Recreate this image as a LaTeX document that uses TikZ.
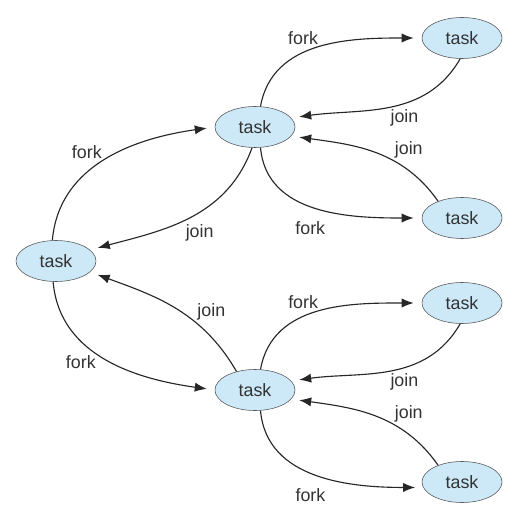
\documentclass[tikz,border=0pt]{standalone}
\usepackage{fontspec}
\setmainfont{Liberation Sans}
\usepackage{xcolor}
\usepackage{tikz}
\usetikzlibrary{arrows.meta,positioning,shapes.geometric}
\definecolor{taskblue}{HTML}{CDE9F8}
\definecolor{taskline}{HTML}{555555}
\definecolor{tasktext}{HTML}{333333}

\begin{document}
\begin{tikzpicture}[
    x=0.025cm, y=0.025cm,
    font=\fontsize{12.7}{15}\selectfont,
    task/.style={draw=taskline, ellipse, fill=taskblue, text=tasktext, minimum width=2cm, minimum height=1.025cm, inner sep=0pt},
    arrow/.style={-{Latex[length=3mm, width=2.3mm]}, thick, draw=black!85, shorten >=0.2cm},
    lbl/.style={text=tasktext, inner sep=1pt}
  ]
    \useasboundingbox (0,0) rectangle (532,521);
    \node[task] (root) at (56,260) {task};
    \node[task] (upper) at (255,394) {task};
    \node[task] (upperA) at (462,483) {task};
    \node[task] (upperB) at (462,303) {task};
    \node[task] (lower) at (255,131) {task};
    \node[task] (lowerA) at (462,218) {task};
    \node[task] (lowerB) at (462,39) {task};
    % root and the two middle tasks
    \draw[arrow] (root.100) to[out=85, in=188] node[lbl, pos=0.48, above left] {fork} (upper.west);
    \draw[arrow] (upper.262) to[out=250, in=15] node[lbl, pos=0.56, below right=0pt and 4pt] {join} (root.18);
    \draw[arrow] (lower.135) to[out=120, in=340] node[lbl, pos=0.35, above right] {join} (root.342);
    \draw[arrow] (root.262) to[out=275, in=172] node[lbl, pos=0.44, below left] {fork} (lower.west);
    % upper group
    \draw[arrow] (upper.75) to[out=80, in=180] node[lbl, pos=0.5, above left] {fork} (upperA.west);
    \draw[arrow] (upperA.265) to[out=240, in=8] node[lbl, pos=0.5, below right] {join} (upper.14);
    \draw[arrow] (upperB.145) to[out=125, in=352] node[lbl, pos=0.37, above right] {join} (upper.346);
    \draw[arrow] (upper.285) to[out=275, in=180] node[lbl, pos=0.55, below left=6pt and 0pt] {fork} (upperB.west);
    % lower group
    \draw[arrow] (lower.75) to[out=80, in=180] node[lbl, pos=0.5, above left] {fork} (lowerA.west);
    \draw[arrow] (lowerA.265) to[out=240, in=8] node[lbl, pos=0.5, below right] {join} (lower.14);
    \draw[arrow] (lowerB.145) to[out=125, in=352] node[lbl, pos=0.37, above right] {join} (lower.346);
    \draw[arrow] (lower.285) to[out=275, in=180] node[lbl, pos=0.55, below left=6pt and 0pt] {fork} (lowerB.188);
  \end{tikzpicture}
\end{document}
